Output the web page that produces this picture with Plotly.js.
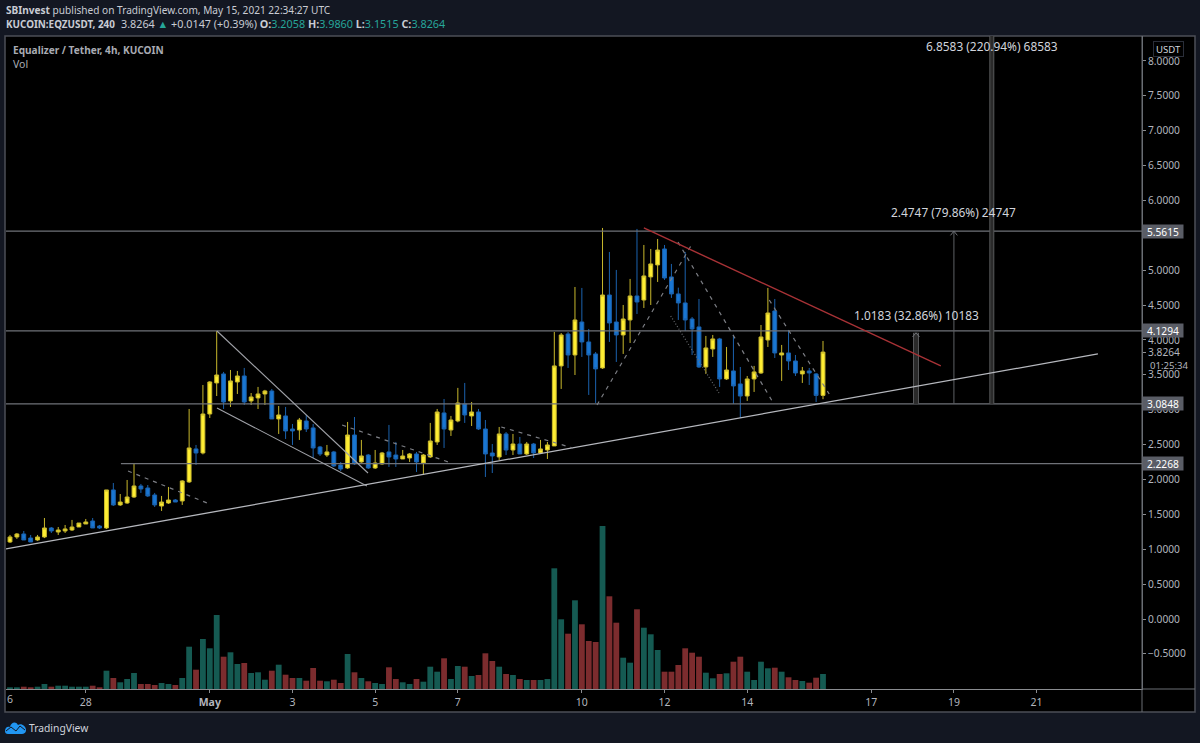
<!DOCTYPE html>
<html><head><meta charset="utf-8">
<script src="https://cdn.plot.ly/plotly-3.0.1.min.js"></script>
<style>html,body{margin:0;padding:0;background:#131722}#c{width:1200px;height:743px}</style>
</head><body><div id="c"></div>
<script>
const opens=[1.104,1.176,1.219,1.161,1.133,1.176,1.305,1.247,1.262,1.276,
1.319,1.362,1.405,1.333,1.305,1.85,1.635,1.663,1.749,1.907,
1.878,1.778,1.62,1.663,1.706,1.692,1.965,2.438,2.38,2.939,
3.384,3.513,3.126,3.398,3.484,3.126,3.169,3.226,3.269,2.868,
2.911,2.724,2.71,2.839,2.739,2.466,2.351,2.395,2.208,2.165,
2.638,2.251,2.351,2.165,2.223,2.395,2.351,2.294,2.308,2.366,
2.237,2.323,2.538,2.954,2.71,2.839,3.083,2.911,2.968,2.724,
2.38,2.323,2.653,2.423,2.509,2.366,2.509,2.38,2.423,2.481,
3.628,4.086,3.785,4.258,3.972,3.8,3.599,4.645,4.258,4.072,
4.287,4.631,4.573,4.904,5.076,5.305,4.904,4.66,4.531,4.301,
4.187,3.613,3.871,4.015,3.441,3.556,3.37,3.197,3.441,3.527,
4.0,4.416,3.785,3.814,3.699,3.513,3.556,3.513,3.2058];
const highs=[1.205,1.233,1.262,1.205,1.205,1.448,1.319,1.319,1.348,1.42,
1.376,1.434,1.448,1.348,1.85,1.95,1.792,1.993,2.223,1.936,
1.921,1.807,1.764,1.893,1.72,1.99,3.011,2.495,3.355,3.41,
4.129,3.542,3.57,3.556,3.599,3.24,3.327,3.285,3.298,3.054,
3.04,2.796,2.882,2.925,2.796,2.481,2.495,2.41,2.251,2.825,
2.896,2.567,2.366,2.423,2.395,2.782,2.538,2.423,2.38,2.395,
2.366,2.811,3.011,3.154,2.911,3.313,3.384,3.111,3.011,2.853,
2.509,2.753,2.681,2.653,2.61,2.538,2.524,2.567,2.538,4.115,
4.1,4.115,4.76,4.746,4.158,3.828,5.606,5.262,5.004,4.502,
4.875,5.592,5.362,5.305,5.448,5.362,5.09,4.75,5.262,4.33,
4.588,4.058,4.072,4.03,3.9,4.072,3.613,3.484,3.628,4.215,
4.746,4.588,3.929,4.144,3.785,3.613,3.599,3.527,3.986];
const lows=[1.09,1.148,1.133,1.104,1.12,1.16,1.233,1.205,1.233,1.262,
1.319,1.362,1.305,1.29,1.29,1.62,1.62,1.65,1.735,1.807,
1.749,1.606,1.549,1.65,1.677,1.635,1.95,2.208,2.36,2.882,
3.197,3.011,3.04,3.226,3.068,3.068,3.011,3.068,2.868,2.653,
2.581,2.495,2.567,2.681,2.308,2.337,2.323,2.18,2.122,2.15,
2.208,2.24,2.151,2.151,2.21,2.18,2.18,2.294,2.251,2.108,
2.065,2.31,2.495,2.452,2.624,2.82,2.811,2.767,2.71,2.036,
2.093,2.28,2.351,2.351,2.366,2.351,2.308,2.38,2.294,2.481,
3.298,3.599,3.498,3.757,3.212,3.097,3.585,3.972,3.685,3.8,
3.957,4.373,4.459,4.502,4.832,4.861,4.603,4.287,4.129,3.785,
3.599,3.513,3.757,3.327,3.427,3.083,2.882,3.126,3.255,3.513,
3.9,3.742,3.413,3.57,3.484,3.384,3.355,3.111,3.1515];
const closes=[1.176,1.219,1.133,1.104,1.176,1.305,1.262,1.276,1.291,1.319,
1.376,1.391,1.305,1.305,1.85,1.635,1.677,1.749,1.907,1.864,
1.764,1.635,1.677,1.706,1.677,1.979,2.452,2.38,2.939,3.398,
3.498,3.111,3.413,3.484,3.111,3.183,3.226,3.269,2.868,2.925,
2.696,2.696,2.853,2.724,2.452,2.366,2.395,2.194,2.151,2.638,
2.223,2.337,2.165,2.237,2.38,2.323,2.294,2.337,2.366,2.251,
2.351,2.552,2.968,2.724,2.853,3.097,2.925,2.968,2.724,2.366,
2.337,2.653,2.423,2.509,2.366,2.509,2.38,2.438,2.495,3.628,
4.072,3.785,4.287,3.972,3.785,3.585,4.645,4.244,4.072,4.301,
4.631,4.545,4.918,5.09,5.29,4.889,4.66,4.531,4.287,4.158,
3.613,3.886,4.015,3.441,3.57,3.341,3.197,3.441,3.542,4.043,
4.387,3.814,3.814,3.699,3.527,3.556,3.527,3.2058,3.8264];
const volumes=[1.7,1.7,2.3,1.7,2.3,5,2.3,3.3,3.3,2.3,
2.3,2.3,3.3,1.7,18.3,11,6.7,10,16,5,
5,4,6,5,4,11,42.3,19.3,50,40.7,
74,32.3,36.7,25,26,16,16.7,9.3,18.3,24.3,
14.3,11,11,8.3,21,8.3,7.7,9.3,6,35,
16.7,11,7.7,6,5,21.7,10,6.7,5,10,
7.3,22.3,17.3,30.7,10,23,22.3,13,14,35.7,
28,22.3,15,14,10,9,9,9,10,120.7,
69.7,55.3,88.7,64.7,48,47,163,92.7,66.3,31.3,
26.3,79.7,61.3,54.7,39,17.3,17.3,24,40.7,36.3,
32.3,16.3,10.7,15,15.7,27.3,32.3,17.3,9,27.3,
20.7,21.3,17.3,11.7,9,8,6.3,11.3,15];
const priceTicks=[8,7.5,7,6.5,6,5,4.5,4,3.8264,3.5,3,2.5,2,1.5,1,0.5,0,-0.5];
const priceTickText=["8.0000","7.5000","7.0000","6.5000","6.0000","5.0000","4.5000","4.0000","3.8264","3.5000","3.0000","2.5000","2.0000","1.5000","1.0000","0.5000","0.0000","\u22120.5000"];
const timeTicks=[11,29,41,53,65,83,95,107,125,137,149];
const timeTickText=["28","<b>May</b>","3","5","7","10","12","14","17","19","21"];
const levels=[5.5615,4.1294,3.0848,2.2268];
const levelStart=[-0.58,-0.58,-0.58,16.1];
const levelLabels=["5.5615","4.1294","3.0848","2.2268"];
const supportX=[-0.58,157.9], supportY=[1.004,3.80];
const wedgeUpperX=[30.04,51.96], wedgeUpperY=[4.129,2.093];
const wedgeLowerX=[30.04,51.8], wedgeLowerY=[3.025,1.907];
const resistX=[92,135.1], resistY=[5.606,3.628];
const dashedSegs=[[[17.13,28.6],[2.122,1.663]],[[48.2,63.6],[2.781,2.251]],[[71.3,81.7],[2.753,2.452]],[[85.2,99],[3.068,5.377]],[[96.95,110.7],[5.405,3.111]],[[110.2,118.9],[4.573,3.226]]];
const dottedX=[95.9,102.9], dottedY=[4.344,3.24];
const measureBase=3.0848;
const measureX=[131.5,137,142.5];
const measureGain=[1.0183,2.4747,6.8583];
const measureWidth=[6,1,5];
const measureText=["1.0183 (32.86%) 10183","2.4747 (79.86%) 24747","6.8583 (220.94%) 68583"];
const measureTextX=[131.5,137,142.5], measureTextY=[4.36,5.84,8.21];

const L=6,R=1142,T=36,B=689;
const fx=p=>(p-L)/(R-L), fy=p=>(B-p)/(B-T);
const FONT='"Noto Sans",sans-serif';
const idx=opens.map((_,i)=>i);
const line=(x,y,color,width,dash)=>({type:'scatter',mode:'lines',x,y,line:{color,width,dash:dash||'solid'},hoverinfo:'skip',showlegend:false});
const traces=[];
traces.push({type:'bar',x:idx,y:volumes,yaxis:'y2',marker:{color:idx.map(i=>closes[i]>=opens[i]?'#155a52':'#7c2c2e'),line:{width:0}},hoverinfo:'skip',showlegend:false});
levels.forEach((v,k)=>traces.push(line([levelStart[k],164.3],[v,v],'#6f7278',1.3)));
measureX.forEach((x,k)=>{
  const top=measureBase+measureGain[k];
  const w=measureWidth[k];
  traces.push(line([x,x],[measureBase,top],w>1?'#565759':'#5e6064',w));
  if(w>1) traces.push(line([x,x],[measureBase,top],'#2a2a2a',w-2));
  traces.push(line([x-0.5,x,x+0.5],[top-0.06,top,top-0.06],'#6f7278',1));
});
traces.push({type:'candlestick',x:idx,open:opens,high:highs,low:lows,close:closes,
  increasing:{line:{color:'#c8b82c',width:1},fillcolor:'#ffee33'},
  decreasing:{line:{color:'#1b62ae',width:1},fillcolor:'#1976d2'},
  whiskerwidth:0,hoverinfo:'skip',showlegend:false});
traces.push(line(supportX,supportY,'#b6b8be',1.3));
traces.push(line(wedgeUpperX,wedgeUpperY,'#a0a2a8',1.1));
traces.push(line(wedgeLowerX,wedgeLowerY,'#a0a2a8',1.1));
dashedSegs.forEach(s=>traces.push(line(s[0],s[1],'#7c7e84',1.2,'4px,5px')));
traces.push(line(dottedX,dottedY,'#6a6c70',1.2,'1px,2px'));
traces.push(line(resistX,resistY,'#a83236',1.4));

const A=(text,px,py,o)=>Object.assign({text,x:fx(px-1.5),y:fy(py),xref:'paper',yref:'paper',showarrow:false,xanchor:'left',yanchor:'middle',
  font:{family:FONT,size:10.5,color:'#d1d4dc'}},o||{});
const teal=s=>`<span style="color:#26a69a">${s}</span>`;
const ann=[
  A('<b>SBInvest</b> published on TradingView.com, May 15, 2021 22:34:27 UTC',5,10,{font:{family:FONT,size:10.1,color:'#c9ccd4'}}),
  A('<b>KUCOIN:EQZUSDT, 240</b>',5,24,{font:{family:FONT,size:9.9,color:'#c9ccd4'}}),
  A(`3.8264 ${teal('\u25B2')} +0.0147 (+0.39%) <b>O:</b>${teal('3.2058')} <b>H:</b>${teal('3.9860')} <b>L:</b>${teal('3.1515')} <b>C:</b>${teal('3.8264')}`,120,24,{font:{family:FONT,size:10.8,color:'#c9ccd4'}}),
  A('<b>Equalizer / Tether, 4h, KUCOIN</b>',12,50,{font:{family:FONT,size:10.1,color:'#a8abb3'}}),
  A('Vol',12,64,{font:{family:FONT,size:10.5,color:'#a8abb3'}}),
  A('6',6,699,{font:{family:FONT,size:10.5,color:'#b2b5be'}}),
  A('01:25:34',1149,365.5,{font:{family:FONT,size:9.6,color:'#b2b5be'}}),
  A('USDT',1168,49,{x:fx(1168),xanchor:'center',width:27,height:12,font:{family:FONT,size:9.6,color:'#d1d4dc'},bgcolor:'#000000',bordercolor:'#2a2e39',borderwidth:1,borderpad:1}),
  A('TradingView',28,728,{font:{family:FONT,size:10.3,color:'#d1d4dc'}})
];
levels.forEach((v,k)=>ann.push({text:levelLabels[k],x:1,y:v,xref:'paper',yref:'y',showarrow:false,xanchor:'left',yanchor:'middle',
  width:38,height:11,align:'center',font:{family:FONT,size:10.2,color:'#ffffff'},bgcolor:'#5a5d66',borderpad:1}));
measureText.forEach((t,k)=>ann.push({text:t,x:measureTextX[k],y:measureTextY[k],showarrow:false,xanchor:'center',yanchor:'middle',
  font:{family:FONT,size:11.9,color:'#d1d4dc'}}));

const P=pts=>pts.map(([c,...v])=>c+v.map((n,i)=>(i%2?fy(n):fx(n)).toFixed(5)).join(' ')).join(' ');
const shapes=[
  {type:'rect',xref:'paper',yref:'paper',x0:fx(5),x1:fx(1195),y0:fy(712),y1:fy(36),fillcolor:'#000000',line:{color:'#4c4f57',width:1.5},layer:'below'},
  {type:'line',xref:'paper',yref:'paper',x0:fx(1142),x1:fx(1142),y0:fy(712),y1:fy(36),line:{color:'#6b6e75',width:1},layer:'above'},
  {type:'line',xref:'paper',yref:'paper',x0:fx(1142),x1:fx(1195),y0:0,y1:0,line:{color:'#6b6e75',width:1},layer:'above'},
  {type:'path',xref:'paper',yref:'paper',layer:'above',fillcolor:'#2196f3',line:{width:0},
   path:P([['M',5,731],['C',5,727,8,726,10,727],['C',11,722,16,721,18,725],['C',21,723,26,726,26,730],['C',26,733,24,734,22,734],['L',8,734],['C',6,734,5,733,5,731],['Z']])},
  {type:'path',xref:'paper',yref:'paper',layer:'above',line:{color:'#131722',width:1},
   path:P([['M',6,731],['L',11,727],['L',16,731],['L',20,726],['L',25,730]])}
];
const layout={width:1200,height:743,margin:{l:L,r:1200-R,t:T,b:743-B,pad:0},
  paper_bgcolor:'#131722',plot_bgcolor:'#000000',showlegend:false,bargap:0.16,boxgap:0.2,dragmode:false,
  xaxis:{type:'linear',range:[-0.58,164.3],showgrid:false,zeroline:false,showline:true,linecolor:'#8a8c90',linewidth:1,
    tickmode:'array',tickvals:timeTicks,ticktext:timeTickText,ticks:'outside',ticklen:3,tickcolor:'#8a8c90',
    tickfont:{family:FONT,size:10.5,color:'#b2b5be'},rangeslider:{visible:false},fixedrange:true},
  yaxis:{side:'right',type:'linear',range:[-1.0036,8.358],showgrid:false,zeroline:false,showline:true,linecolor:'#6b6e75',linewidth:1,
    tickmode:'array',tickvals:priceTicks,ticktext:priceTickText,ticks:'outside',ticklen:3,tickcolor:'#8a8c90',
    tickfont:{family:FONT,size:10.2,color:'#b2b5be'},fixedrange:true},
  yaxis2:{overlaying:'y',range:[0,653],visible:false,fixedrange:true},
  annotations:ann,shapes
};
Plotly.newPlot('c',traces,layout,{displayModeBar:false,staticPlot:true});
</script></body></html>
